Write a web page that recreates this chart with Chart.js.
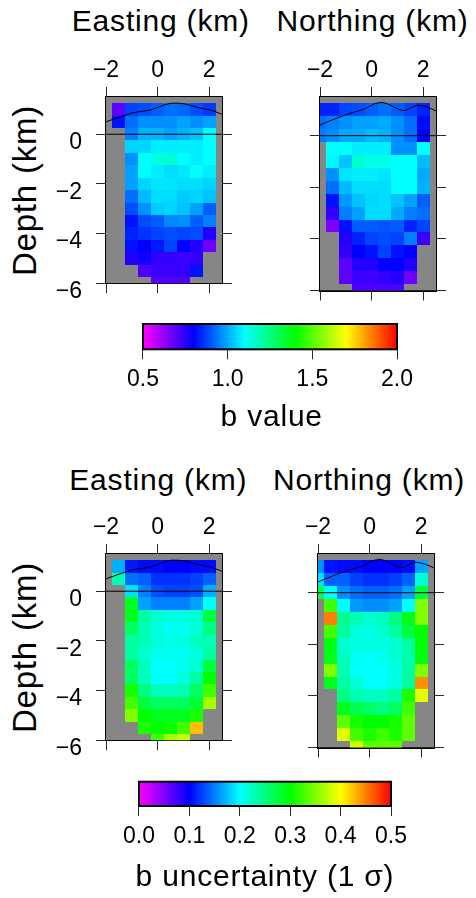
<!DOCTYPE html>
<html>
<head>
<meta charset="utf-8">
<script src="https://cdn.jsdelivr.net/npm/chart.js@4.4.1/dist/chart.umd.min.js"></script>
<style>
  html, body { margin: 0; padding: 0; background: #fff; }
  #page { position: relative; width: 476px; height: 898px; overflow: hidden;
          font-family: "Liberation Sans", Arial, Helvetica, sans-serif; color: #000; }
  #page canvas { position: absolute; }
  .title { position: absolute; width: 320px; height: 30px; font-size: 30px; line-height: 30px;
           text-align: center; white-space: nowrap; letter-spacing: 0.8px; }
  .ylab { position: absolute; width: 240px; height: 33px; font-size: 33px; line-height: 33px;
          text-align: center; white-space: nowrap; letter-spacing: 0.8px; transform: rotate(-90deg); }
</style>
</head>
<body>
<div id="page">
  <canvas id="bEast" width="196" height="254" style="left:46px;top:57px;width:196px;height:254px"></canvas>
  <canvas id="bNorth" width="196" height="254" style="left:260px;top:57px;width:196px;height:254px"></canvas>
  <canvas id="bBar" width="300" height="100" style="left:120px;top:300px;width:300px;height:100px"></canvas>
  <canvas id="sEast" width="196" height="254" style="left:46px;top:514px;width:196px;height:254px"></canvas>
  <canvas id="sNorth" width="196" height="254" style="left:258px;top:514px;width:196px;height:254px"></canvas>
  <canvas id="sBar" width="298" height="100" style="left:116px;top:760px;width:298px;height:100px"></canvas>

  <div class="title" style="left:0.8px;top:6.3px">Easting (km)</div>
  <div class="title" style="left:212.5px;top:6.3px">Northing (km)</div>
  <div class="ylab" style="left:-96.4px;top:174.3px">Depth (km)</div>
  <div class="title" style="left:111.7px;top:401.3px">b value</div>

  <div class="title" style="left:-1.7px;top:465.3px">Easting (km)</div>
  <div class="title" style="left:209px;top:465.3px">Northing (km)</div>
  <div class="ylab" style="left:-96.4px;top:630.9px">Depth (km)</div>
  <div class="title" style="left:105px;top:861.3px">b uncertainty (1 σ)</div>
</div>

<script>
// ---- tick values -------------------------------------------------------
const distanceTicks = [-2, 0, 2];
const depthTicks = [0, -2, -4, -6];
const bValueTicks = [0.5, 1.0, 1.5, 2.0];
const sigmaTicks = [0.0, 0.1, 0.2, 0.3, 0.4, 0.5];

// ---- grid cell centres (km) -------------------------------------------
const cellCentreKm = [-2, -1.5, -1, -0.5, 0, 0.5, 1, 1.5, 2];
const cellDepthKm = [1, 0.5, 0, -0.5, -1, -1.5, -2, -2.5, -3, -3.5, -4, -4.5, -5, -5.5, -6];

// ---- b value, projected on the easting section (rows = depth, cols = distance)
const bEasting = [
  [null, 0.69, 0.88, 0.89, 0.91, 0.93, 0.92, 0.89, 0.87],
  [null, 0.82, 0.93, 0.97, 0.97, 0.97, 0.99, 0.97, 0.99],
  [null, null, 0.95, 1.01, 1.01, 0.99, 1.01, 1.03, 1.10],
  [null, null, 1.05, 1.05, 1.08, 1.08, 1.08, 1.08, 1.10],
  [null, null, 0.97, 1.10, 1.14, 1.15, 1.10, 1.08, 1.10],
  [null, null, 0.99, 1.10, 1.08, 1.06, 1.07, 1.10, 1.08],
  [null, null, 0.99, 1.05, 1.07, 1.07, 1.06, 1.06, 1.05],
  [null, null, 0.93, 1.02, 1.06, 1.06, 1.04, 1.05, 1.03],
  [null, null, 0.89, 0.97, 1.04, 1.05, 1.03, 0.99, 0.91],
  [null, null, 0.82, 0.89, 0.91, 0.96, 0.97, 0.91, 0.95],
  [null, null, 0.84, 0.86, 0.88, 0.89, 0.88, 0.89, 0.76],
  [null, null, 0.82, 0.80, 0.83, 0.88, 0.80, 0.76, 0.67],
  [null, null, 0.76, 0.78, 0.74, 0.74, 0.73, 0.74, null],
  [null, null, null, 0.71, 0.73, 0.73, 0.74, 0.82, null],
  [null, null, null, null, 0.70, 0.70, 0.70, null, null]
];

// ---- b value, projected on the northing section
const bNorthing = [
  [0.84, 0.84, 0.88, 0.89, 0.91, 0.93, 0.91, 0.88, 0.84],
  [0.93, 0.95, 0.97, 0.99, 0.99, 1.00, 0.97, 0.93, 0.81],
  [0.95, 0.97, 1.00, 1.00, 1.02, 1.01, 0.97, 0.93, 0.80],
  [null, 1.10, 1.10, 1.08, 1.08, 1.08, 0.97, 0.97, 1.10],
  [null, 1.09, 1.03, 1.16, 1.13, 1.13, 1.10, 1.10, 1.02],
  [null, 0.97, 1.07, 1.08, 1.08, 1.07, 1.10, 1.10, 1.00],
  [null, 0.93, 1.02, 1.06, 1.06, 1.06, 1.10, 1.10, 1.01],
  [null, 0.82, 0.98, 1.03, 1.05, 1.06, 1.03, 0.99, 0.91],
  [null, 0.74, 0.95, 0.99, 1.06, 1.06, 1.00, 0.95, 0.93],
  [null, 0.65, 0.82, 0.91, 0.91, 0.90, 0.91, 0.84, 0.88],
  [null, null, 0.76, 0.84, 0.88, 0.89, 0.88, 0.95, 0.73],
  [null, null, 0.74, 0.80, 0.82, 0.88, 0.82, 0.80, null],
  [null, null, 0.69, 0.76, 0.76, 0.80, 0.80, 0.76, null],
  [null, null, 0.69, 0.73, 0.73, 0.74, 0.76, 0.67, null],
  [null, null, null, 0.71, 0.71, 0.71, 0.71, null, null]
];

// ---- 1-sigma uncertainty of b, easting section
const sigmaEasting = [
  [null, 0.169, 0.110, 0.104, 0.104, 0.100, 0.100, 0.103, 0.104],
  [null, 0.231, 0.144, 0.138, 0.119, 0.119, 0.119, 0.125, 0.138],
  [null, null, 0.188, 0.150, 0.131, 0.125, 0.125, 0.131, 0.169],
  [null, null, 0.287, 0.163, 0.150, 0.150, 0.150, 0.163, 0.200],
  [null, null, 0.290, 0.237, 0.218, 0.212, 0.212, 0.218, 0.275],
  [null, null, 0.262, 0.231, 0.212, 0.206, 0.206, 0.218, 0.250],
  [null, null, 0.237, 0.230, 0.215, 0.209, 0.212, 0.225, 0.231],
  [null, null, 0.237, 0.218, 0.206, 0.206, 0.206, 0.212, 0.237],
  [null, null, 0.262, 0.225, 0.200, 0.200, 0.206, 0.218, 0.275],
  [null, null, 0.262, 0.225, 0.200, 0.200, 0.212, 0.237, 0.300],
  [null, null, 0.308, 0.250, 0.225, 0.225, 0.231, 0.262, 0.325],
  [null, null, 0.325, 0.275, 0.262, 0.262, 0.262, 0.280, 0.363],
  [null, null, 0.350, 0.300, 0.290, 0.290, 0.290, 0.310, null],
  [null, null, null, 0.310, 0.300, 0.304, 0.325, 0.425, null],
  [null, null, null, null, 0.325, 0.363, 0.375, null, null]
];

// ---- 1-sigma uncertainty of b, northing section
const sigmaNorthing = [
  [0.156, 0.108, 0.104, 0.104, 0.100, 0.100, 0.100, 0.104, 0.163],
  [0.188, 0.138, 0.138, 0.125, 0.119, 0.119, 0.125, 0.138, 0.218],
  [0.275, 0.200, 0.156, 0.144, 0.138, 0.138, 0.144, 0.163, 0.275],
  [null, 0.325, 0.200, 0.160, 0.156, 0.156, 0.163, 0.200, 0.350],
  [null, 0.450, 0.243, 0.231, 0.218, 0.225, 0.250, 0.290, 0.350],
  [null, 0.325, 0.237, 0.212, 0.209, 0.218, 0.237, 0.275, 0.300],
  [null, 0.295, 0.218, 0.212, 0.212, 0.212, 0.218, 0.237, 0.300],
  [null, 0.290, 0.225, 0.206, 0.200, 0.206, 0.218, 0.231, 0.295],
  [null, 0.350, 0.231, 0.200, 0.200, 0.200, 0.212, 0.237, 0.350],
  [null, 0.290, 0.237, 0.218, 0.200, 0.200, 0.212, 0.237, 0.444],
  [null, null, 0.250, 0.231, 0.225, 0.225, 0.237, 0.310, 0.388],
  [null, null, 0.290, 0.270, 0.262, 0.250, 0.262, 0.325, null],
  [null, null, 0.337, 0.308, 0.300, 0.300, 0.308, 0.337, null],
  [null, null, 0.388, 0.325, 0.310, 0.325, 0.310, 0.337, null],
  [null, null, null, 0.380, 0.337, 0.337, 0.337, null, null]
];

// ---- surface topography along each section (km)
const topoEastingKm   = [-2.0, -1.46, -0.95, -0.56, -0.30, -0.04, 0.28, 0.54, 0.80, 1.06, 1.38, 1.77, 2.09, 2.41, 2.5];
const topoEastingElev = [0.50, 0.70, 0.87, 0.93, 0.97, 1.06, 1.19, 1.25, 1.25, 1.22, 1.13, 1.03, 0.97, 0.84, 0.80];
const topoNorthingKm   = [-2.0, -1.28, -0.76, -0.31, -0.05, 0.14, 0.40, 0.59, 0.85, 1.11, 1.30, 1.56, 1.76, 2.02, 2.27, 2.5];
const topoNorthingElev = [0.42, 0.71, 0.89, 1.02, 1.15, 1.25, 1.29, 1.25, 1.12, 1.00, 0.97, 1.10, 1.18, 1.15, 1.06, 0.96];

// ---- layout / style settings -------------------------------------------
const X_RANGE = [-2, 2.5];
const DEPTH_RANGE = [-6, 1.5];
const CELL_KM = 0.5;
const NO_DATA = '#868686';
const FONT = '"Liberation Sans", Arial, Helvetica, sans-serif';

Chart.defaults.font.family = FONT;
Chart.defaults.color = '#000';

// rainbow palette: magenta -> blue -> cyan -> green -> yellow -> red
const paletteStops = [
  [0.0, [255, 0, 255]],
  [0.2, [0, 0, 255]],
  [0.4, [0, 255, 255]],
  [0.6, [0, 255, 0]],
  [0.8, [255, 255, 0]],
  [1.0, [255, 0, 0]]
];
function paletteColour(t) {
  t = Math.max(0, Math.min(1, t));
  for (let i = 1; i < paletteStops.length; i++) {
    const [t1, c1] = paletteStops[i];
    const [t0, c0] = paletteStops[i - 1];
    if (t <= t1) {
      const f = (t - t0) / (t1 - t0);
      const c = c0.map((v, k) => Math.round(v + (c1[k] - v) * f));
      return `rgb(${c[0]},${c[1]},${c[2]})`;
    }
  }
  return 'rgb(255,0,0)';
}

const minusFmt = v => (v < 0 ? '\u2212' + Math.abs(v) : String(v));
const fixedTicks = list => scale => { scale.ticks = list.map(v => ({ value: v })); };

// fills the plot area with no-data grey, then one rectangle per grid cell
function cellLayer(grid, lo, hi) {
  return {
    id: 'cellLayer',
    beforeDatasetsDraw(chart) {
      const { ctx, chartArea: a, scales } = chart;
      const xs = scales.x, ys = scales.y;
      ctx.save();
      ctx.beginPath();
      ctx.rect(a.left, a.top, a.right - a.left, a.bottom - a.top);
      ctx.clip();
      ctx.fillStyle = NO_DATA;
      ctx.fillRect(a.left, a.top, a.right - a.left, a.bottom - a.top);
      grid.forEach((row, r) => row.forEach((v, c) => {
        if (v === null) return;
        const x0 = Math.round(xs.getPixelForValue(cellCentreKm[c] - CELL_KM / 2));
        const x1 = Math.round(xs.getPixelForValue(cellCentreKm[c] + CELL_KM / 2));
        const y0 = Math.round(ys.getPixelForValue(cellDepthKm[r] + CELL_KM / 2));
        const y1 = Math.round(ys.getPixelForValue(cellDepthKm[r] - CELL_KM / 2));
        ctx.fillStyle = paletteColour((v - lo) / (hi - lo));
        ctx.fillRect(x0, y0, x1 - x0, y1 - y0);
      }));
      ctx.restore();
    }
  };
}

function sectionPanel(canvasId, grid, lo, hi, topoKm, topoElev, depthLabels) {
  const tickFont = { size: 23 };
  const marks = { drawOnChartArea: false, drawTicks: true, tickLength: 10, tickColor: '#2a2a2a', lineWidth: 1 };
  const frame = { display: true, color: '#000', width: 2 };
  const distAxis = (position, labelled, size) => ({
    type: 'linear', axis: 'x', position, bounds: 'data', min: X_RANGE[0], max: X_RANGE[1], z: 1,
    afterBuildTicks: fixedTicks(distanceTicks),
    afterFit: s => { s.height = size; },
    ticks: { display: labelled, font: tickFont, padding: 2.5, maxRotation: 0, autoSkip: false, callback: minusFmt },
    grid: marks, border: frame
  });
  const depthAxis = (position, labelled, size) => ({
    type: 'linear', axis: 'y', position, bounds: 'data', min: DEPTH_RANGE[0], max: DEPTH_RANGE[1], z: 1,
    afterBuildTicks: fixedTicks(depthTicks),
    afterFit: s => { s.width = size; },
    ticks: { display: labelled, font: tickFont, padding: 14, labelOffset: 8.5, autoSkip: false, callback: minusFmt },
    grid: marks, border: frame
  });
  return new Chart(document.getElementById(canvasId), {
    type: 'scatter',
    data: {
      datasets: [
        { data: topoKm.map((x, i) => ({ x, y: topoElev[i] })), showLine: true,
          borderColor: '#000', borderWidth: 1, pointRadius: 0, xAxisID: 'x', yAxisID: 'y' },
        { data: X_RANGE.map(x => ({ x, y: 0 })), showLine: true,
          borderColor: '#000', borderWidth: 1, pointRadius: 0, xAxisID: 'x', yAxisID: 'y' }
      ]
    },
    options: {
      responsive: false, animation: false, events: [],
      layout: { padding: 0 },
      plugins: { legend: { display: false }, tooltip: { enabled: false } },
      scales: {
        x: distAxis('top', true, 40),
        xb: distAxis('bottom', false, 20.5),
        y: depthAxis('left', depthLabels, 60),
        yr: depthAxis('right', false, 20)
      }
    },
    plugins: [cellLayer(grid, lo, hi)]
  });
}

// colour scale drawn as a gradient across the x scale of a small chart
function colourKey(lo, hi) {
  return {
    id: 'colourKey',
    beforeDatasetsDraw(chart) {
      const { ctx, chartArea: a, scales: { x } } = chart;
      const g = ctx.createLinearGradient(x.getPixelForValue(lo), 0, x.getPixelForValue(hi), 0);
      paletteStops.forEach(([t]) => g.addColorStop(t, paletteColour(t)));
      ctx.save();
      ctx.fillStyle = g;
      ctx.fillRect(a.left, a.top, a.right - a.left, a.bottom - a.top);
      ctx.lineWidth = 2;
      ctx.strokeStyle = '#000';
      ctx.strokeRect(a.left, a.top, a.right - a.left, a.bottom - a.top);
      ctx.restore();
    }
  };
}

function colourBar(canvasId, lo, hi, ticks, pad, axisHeight) {
  return new Chart(document.getElementById(canvasId), {
    type: 'scatter',
    data: { datasets: [] },
    options: {
      responsive: false, animation: false, events: [],
      layout: { padding: pad },
      plugins: { legend: { display: false }, tooltip: { enabled: false } },
      scales: {
        x: {
          type: 'linear', position: 'bottom', bounds: 'data', min: lo, max: hi,
          afterBuildTicks: fixedTicks(ticks),
          afterFit: s => { s.height = axisHeight; },
          ticks: { font: { size: 23 }, padding: 7, maxRotation: 0, autoSkip: false, callback: v => Number(v).toFixed(1) },
          grid: { drawOnChartArea: false, drawTicks: true, tickLength: 10, tickColor: '#2a2a2a', lineWidth: 1 },
          border: { display: false }
        },
        y: { display: false, min: 0, max: 1 }
      }
    },
    plugins: [colourKey(lo, hi)]
  });
}

sectionPanel('bEast', bEasting, 0.5, 2.0, topoEastingKm, topoEastingElev, true);
sectionPanel('bNorth', bNorthing, 0.5, 2.0, topoNorthingKm, topoNorthingElev, false);
colourBar('bBar', 0.5, 2.0, bValueTicks, { left: 21.7, right: 21.7, top: 24, bottom: 0 }, 50.7);

sectionPanel('sEast', sigmaEasting, 0.0, 0.5, topoEastingKm, topoEastingElev, true);
sectionPanel('sNorth', sigmaNorthing, 0.0, 0.5, topoNorthingKm, topoNorthingElev, false);
colourBar('sBar', 0.0, 0.5, sigmaTicks, { left: 20, right: 20, top: 21.7, bottom: 0 }, 54);
</script>
</body>
</html>
